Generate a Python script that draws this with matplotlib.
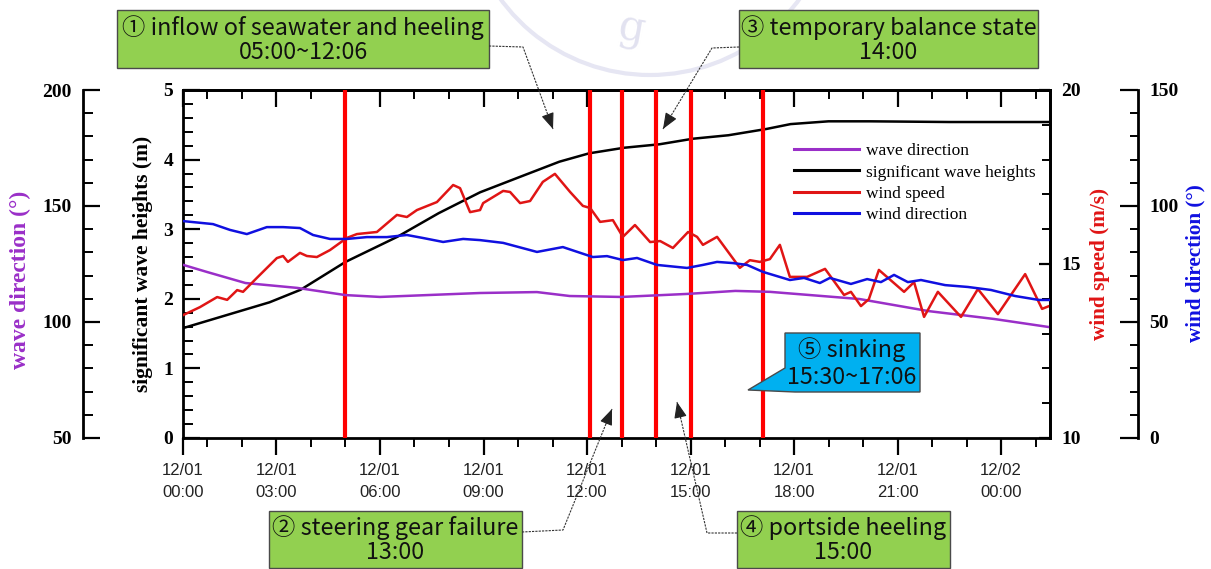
import matplotlib
matplotlib.use('Agg')
import matplotlib.pyplot as plt
from matplotlib.patches import Rectangle, Polygon, FancyArrowPatch, Arc
from matplotlib.lines import Line2D
from matplotlib.ticker import FixedLocator, MultipleLocator

# ---------------- data (hours since 12/01 00:00) ----------------
hs_t = [0.3, 1.65, 2.8, 3.7, 5.0, 6.5, 7.7, 8.9, 10.1, 11.2, 12.06, 13.07, 14.1,
        15.07, 16.1, 17.2, 17.9, 19.0, 20.2, 22.5, 25.4]
hs_v = [1.58, 1.78, 1.95, 2.13, 2.53, 2.89, 3.23, 3.53, 3.76, 3.97, 4.09, 4.17, 4.22,
        4.30, 4.35, 4.44, 4.51, 4.55, 4.55, 4.54, 4.54]

wavedir_t = [0.3, 1.0, 2.1, 3.6, 5.0, 6.0, 8.9, 10.55, 11.5, 13.0, 14.9, 16.3, 17.3,
             19.9, 21.9, 23.8, 25.4]
wavedir_v = [124.6, 121.5, 116.8, 114.7, 111.6, 110.8, 112.5, 112.9, 111.2, 110.8,
             112.1, 113.4, 113.0, 109.9, 104.7, 101.3, 97.8]

ws_t = [0.29, 0.78, 1.28, 1.57, 1.86, 2.03, 2.43, 3.01, 3.19, 3.33, 3.68, 3.88, 4.17,
        4.55, 5.04, 5.33, 5.91, 6.49, 6.78, 7.07, 7.65, 8.12, 8.32, 8.61, 8.90, 8.99,
        9.57, 9.77, 10.06, 10.35, 10.72, 11.07, 11.51, 11.88, 12.09, 12.38, 12.75,
        13.04, 13.39, 13.83, 14.12, 14.49, 14.93, 15.19, 15.36, 15.77, 16.43, 16.72,
        17.01, 17.30, 17.59, 17.88, 18.38, 18.90, 19.45, 19.65, 19.94, 20.17, 20.46,
        21.19, 21.48, 21.77, 22.17, 22.84, 23.33, 23.91, 24.70, 25.19, 25.39]
ws_v = [13.53, 13.76, 14.05, 13.97, 14.25, 14.20, 14.60, 15.17, 15.23, 15.06, 15.32,
        15.23, 15.20, 15.40, 15.75, 15.86, 15.92, 16.41, 16.35, 16.55, 16.78, 17.27,
        17.18, 16.49, 16.55, 16.75, 17.10, 17.07, 16.75, 16.81, 17.36, 17.59, 17.07,
        16.67, 16.61, 16.21, 16.26, 15.78, 16.12, 15.63, 15.66, 15.46, 15.92, 15.78,
        15.55, 15.78, 14.89, 15.11, 15.06, 15.14, 15.55, 14.63, 14.63, 14.86, 14.11,
        14.20, 13.79, 13.99, 14.83, 14.20, 14.48, 13.48, 14.20, 13.48, 14.28, 13.56,
        14.71, 13.71, 13.79]

wdir_t = [0.29, 1.16, 1.65, 2.14, 2.72, 3.19, 3.68, 4.06, 4.55, 5.04, 5.62, 6.20, 6.78,
          7.25, 7.83, 8.41, 8.90, 9.57, 10.55, 11.30, 12.17, 12.58, 13.04, 13.45,
          14.03, 14.90, 15.36, 15.77, 16.23, 16.64, 17.10, 17.88, 18.29, 18.75, 19.04,
          19.65, 20.12, 20.52, 20.90, 21.30, 21.68, 22.38, 23.04, 23.71, 24.41, 25.10,
          25.39]
wdir_v = [93.5, 92.2, 89.7, 87.9, 90.9, 90.9, 90.5, 87.5, 85.8, 85.8, 86.6, 86.6, 87.5,
          86.2, 84.5, 85.8, 85.3, 84.1, 80.2, 82.3, 78.0, 78.4, 76.7, 77.6, 74.6, 73.3,
          74.6, 75.9, 75.4, 74.6, 71.6, 68.1, 69.0, 66.8, 69.0, 66.4, 68.5, 67.2, 70.3,
          67.2, 68.1, 65.9, 65.1, 63.8, 61.2, 59.5, 59.5]

event_t = [5.0, 12.1, 13.0, 14.0, 15.0, 17.1]

x_major = [0.29, 3, 6, 9, 12, 15, 18, 21, 24]
x_labels = ['12/01\n00:00', '12/01\n03:00', '12/01\n06:00', '12/01\n09:00',
            '12/01\n12:00', '12/01\n15:00', '12/01\n18:00', '12/01\n21:00',
            '12/02\n00:00']

legend_labels = ['wave direction', 'significant wave heights', 'wind speed',
                 'wind direction']

box_texts = [
    ('\u2460 inflow of seawater and heeling', '05:00~12:06'),
    ('\u2461 steering gear failure', '13:00'),
    ('\u2462 temporary balance state', '14:00'),
    ('\u2463 portside heeling', '15:00'),
    ('\u2464 sinking', '15:30~17:06'),
]

# ---------------- figure ----------------
W, H = 1211, 569
fig = plt.figure(figsize=(W / 100, H / 100), dpi=100)


def fx(x):
    return x / W


def fy(y):
    return 1 - y / H


SERIF = ['Liberation Serif', 'DejaVu Serif']
XFONT = ['Liberation Sans Narrow', 'Liberation Sans', 'DejaVu Sans']
BOXFONT = ['Noto Sans CJK KR', 'DejaVu Sans']

PURPLE = '#9A2FC8'
RED = '#E01515'
BLUE = '#1010E0'

L, R, T, B = 183, 1050, 90, 438
ax = fig.add_axes([fx(L), fy(B), (R - L) / W, (B - T) / H])
ax.set_xlim(0.29, 25.42)
ax.set_ylim(0, 5)

# outer axes
ax_wave = ax.twinx()
ax_ws = ax.twinx()
ax_wdir = ax.twinx()

ax_wave.set_ylim(50, 200)
ax_ws.set_ylim(10, 20)
ax_wdir.set_ylim(0, 150)

# lines
l1, = ax_wave.plot(wavedir_t, wavedir_v, color=PURPLE, lw=1.8)
l2, = ax.plot(hs_t, hs_v, color='black', lw=1.8)
l3, = ax_ws.plot(ws_t, ws_v, color=RED, lw=1.8)
l4, = ax_wdir.plot(wdir_t, wdir_v, color=BLUE, lw=1.8)

for t in event_t:
    ax.axvline(t, color='#FF0000', lw=3, zorder=5)

# main axes spines / ticks
for s in ax.spines.values():
    s.set_linewidth(2)
ax.yaxis.set_major_locator(MultipleLocator(1))
ax.yaxis.set_minor_locator(MultipleLocator(0.2))
ax.tick_params(axis='y', which='major', direction='in', length=12, width=1.6,
               labelsize=14, pad=7)
ax.tick_params(axis='y', which='minor', direction='in', length=7, width=1.4)
ax.xaxis.set_major_locator(FixedLocator(x_major))
ax.xaxis.set_minor_locator(FixedLocator([h for h in range(1, 26) if h % 3 != 0]))
ax.set_xticklabels(x_labels)
ax.tick_params(axis='x', which='major', direction='out', length=12, width=1.6,
               labelsize=12, pad=6)
ax.tick_params(axis='x', which='minor', direction='out', length=6.5, width=1.4)
for lab in ax.get_xticklabels():
    lab.set_family(XFONT)
    lab.set_color('#222222')
    lab.set_linespacing(1.6)
for lab in ax.get_yticklabels():
    lab.set_family(SERIF)
    lab.set_fontweight('bold')

top = ax.secondary_xaxis('top')
top.xaxis.set_major_locator(FixedLocator(x_major))
top.xaxis.set_minor_locator(FixedLocator([h for h in range(1, 26) if h % 3 != 0]))
top.tick_params(axis='x', which='major', direction='in', length=12, width=1.6,
                labeltop=False)
top.tick_params(axis='x', which='minor', direction='in', length=6.5, width=1.4)
top.spines['top'].set_linewidth(2)

# wave direction axis (outer left)
for k in ['top', 'bottom', 'right']:
    ax_wave.spines[k].set_visible(False)
ax_wave.spines['left'].set_visible(True)
ax_wave.spines['left'].set_position(('axes', (83 - L) / (R - L)))
ax_wave.spines['left'].set_linewidth(2)
ax_wave.yaxis.set_ticks_position('left')
ax_wave.yaxis.set_major_locator(MultipleLocator(50))
ax_wave.yaxis.set_minor_locator(MultipleLocator(10))
ax_wave.tick_params(axis='y', which='major', direction='in', length=12, width=1.6,
                    labelsize=14, pad=8)
ax_wave.tick_params(axis='y', which='minor', direction='in', length=7, width=1.4)

# wind speed axis (right spine of main)
for k in ['top', 'bottom', 'left']:
    ax_ws.spines[k].set_visible(False)
ax_ws.spines['right'].set_linewidth(2)
ax_ws.yaxis.set_major_locator(MultipleLocator(5))
ax_ws.yaxis.set_minor_locator(MultipleLocator(1))
ax_ws.tick_params(axis='y', which='major', direction='in', length=8, width=1.6,
                  labelsize=14, pad=8)
ax_ws.tick_params(axis='y', which='minor', direction='in', length=6, width=1.4)

# wind direction axis (outer right)
for k in ['top', 'bottom', 'left']:
    ax_wdir.spines[k].set_visible(False)
ax_wdir.spines['right'].set_position(('axes', (1138 - L) / (R - L)))
ax_wdir.spines['right'].set_linewidth(2)
ax_wdir.yaxis.set_major_locator(MultipleLocator(50))
ax_wdir.yaxis.set_minor_locator(MultipleLocator(10))
ax_wdir.tick_params(axis='y', which='major', direction='in', length=13, width=1.6,
                    labelsize=14, pad=8)
ax_wdir.tick_params(axis='y', which='minor', direction='in', length=6, width=1.4)

for a in [ax_wave, ax_ws, ax_wdir]:
    for lab in a.get_yticklabels():
        lab.set_family(SERIF)
        lab.set_fontweight('bold')

# axis titles
fig.text(fx(20), fy(280), 'wave direction (\u00b0)', rotation=90, color=PURPLE,
         family=SERIF, fontweight='bold', fontsize=17, ha='center', va='center')
fig.text(fx(143), fy(264), 'significant wave heights (m)', rotation=90,
         color='black', family=SERIF, fontweight='bold', fontsize=15.5,
         ha='center', va='center')
fig.text(fx(1100), fy(264), 'wind speed (m/s)', rotation=90, color=RED,
         family=SERIF, fontweight='bold', fontsize=15.3, ha='center', va='center')
fig.text(fx(1195), fy(263), 'wind direction (\u00b0)', rotation=90, color=BLUE,
         family=SERIF, fontweight='bold', fontsize=15.2, ha='center', va='center')

# legend
leg = fig.legend([l1, l2, l3, l4], legend_labels, loc='upper left',
                 bbox_to_anchor=(fx(794), fy(143)), frameon=False,
                 prop={'family': SERIF, 'size': 12.5}, handlelength=3.75,
                 handletextpad=0.4, labelspacing=0.3, borderpad=0,
                 borderaxespad=0)
for h in leg.legend_handles:
    h.set_linewidth(2.2)

# watermark (faint seal fragment)
r = 185
fig.add_artist(Arc((fx(650), fy(-110)), 2 * r / W, 2 * r / H, theta1=200, theta2=340,
                   transform=fig.transFigure, color='#E6E6F3', lw=3, zorder=0))
fig.text(fx(632), fy(30), 'g', color='#E2E2F0', fontsize=30, family='DejaVu Serif',
         ha='center', va='center', rotation=-10, zorder=0)


# annotation boxes
def box(x0, y0, x1, y1, lines, face):
    fig.add_artist(Rectangle((fx(x0), fy(y1)), (x1 - x0) / W, (y1 - y0) / H,
                             transform=fig.transFigure, facecolor=face,
                             edgecolor='#4a4a4a', lw=1.0, zorder=10))
    cx = (x0 + x1) / 2
    h = y1 - y0
    fig.text(fx(cx), fy(y0 + h * 0.30), lines[0], family=BOXFONT, fontsize=16.8,
             ha='center', va='center', zorder=11, color='#111111')
    fig.text(fx(cx), fy(y0 + h * 0.73), lines[1], family=BOXFONT, fontsize=16.8,
             ha='center', va='center', zorder=11, color='#111111')


GREEN = '#92D050'
box(117, 10, 489, 68, box_texts[0], GREEN)
box(269, 511, 522, 568, box_texts[1], GREEN)
box(739, 10, 1038, 68, box_texts[2], GREEN)
box(737, 511, 950, 568, box_texts[3], GREEN)

# sinking callout
poly = [(785, 333), (920, 333), (920, 392), (795, 392), (748, 390), (785, 368)]
fig.add_artist(Polygon([(fx(x), fy(y)) for x, y in poly], closed=True,
                       transform=fig.transFigure, facecolor='#00B0F0',
                       edgecolor='#4a4a4a', lw=1.0, zorder=10))
fig.text(fx(852), fy(350), box_texts[4][0], family=BOXFONT, fontsize=16.8,
         ha='center', va='center', zorder=11, color='#111111')
fig.text(fx(852), fy(377), box_texts[4][1], family=BOXFONT, fontsize=16.8,
         ha='center', va='center', zorder=11, color='#111111')


# leader arrows
def leader(pts):
    xs = [fx(p[0]) for p in pts]
    ys = [fy(p[1]) for p in pts]
    fig.add_artist(Line2D(xs, ys, transform=fig.transFigure, color='#333333',
                          lw=0.8, ls=(0, (2, 1)), zorder=12))
    (xa, ya), (xb, yb) = pts[-2], pts[-1]
    xs0 = xb - (xb - xa) * 0.12
    ys0 = yb - (yb - ya) * 0.12
    fig.add_artist(FancyArrowPatch((fx(xs0), fy(ys0)), (fx(xb), fy(yb)),
                                   transform=fig.transFigure,
                                   arrowstyle='-|>,head_length=0.7,head_width=0.28',
                                   mutation_scale=14, color='#222222', lw=0.8,
                                   shrinkA=0, shrinkB=0, zorder=12))


leader([(489, 46), (523, 47), (553, 129)])
leader([(739, 47), (712, 48), (663, 129)])
leader([(522, 532), (563, 530), (612, 409)])
leader([(737, 533), (707, 533), (677, 402)])

fig.savefig('out.png', dpi=100)
